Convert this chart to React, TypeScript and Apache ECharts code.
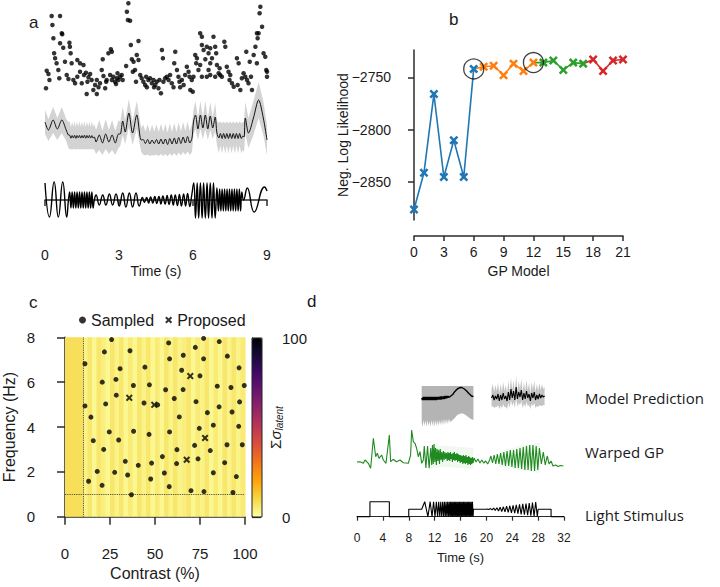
import React, { useEffect, useRef } from 'react';
import * as echarts from 'echarts';

// ---------- Panel a ----------
const spikeRates: number[][] = [
  [0.27,84],[0.61,84],[0.30,75],[0.34,61.7],[0.68,66.7],[0.70,65.7],[0.61,56.7],[0.74,52.3],[0.99,57.3],[1.01,53.3],
  [0.37,46.7],[0.41,41.7],[0.47,36.7],[0.81,38.3],[1.04,46.7],[1.08,36.7],[1.31,40],[1.42,36.7],[1.56,35],[0.07,29.3],
  [0.14,26],[0.18,20],[0.04,11.7],[0.54,30],[0.58,21.7],[0.88,25],[0.95,21],[1.15,20],[1.22,16.7],[1.31,23.3],
  [1.42,28.3],[1.49,16.7],[1.58,25],[1.66,27.3],[1.72,18.3],[1.76,22.7],[1.83,26],[1.89,20],[1.69,6],[1.96,10],
  [2.03,15],[2.10,20],[2.10,6],[2.17,12.7],[2.23,16.7],[2.30,30],[2.37,24],[2.44,11.7],[2.48,18.3],[2.50,20],
  [2.34,40.7],[2.57,46.7],[2.67,50.7],[2.71,48.3],[2.64,25],[2.71,20],[2.77,23.3],[2.84,18.3],[2.91,21.7],[2.98,20],
  [3.04,23.3],[3.11,25],[3.15,20],[2.88,16],[2.94,26.7],
  [3.38,96.7],[3.32,88.3],[3.36,80],[3.45,79.3],[3.48,55],[3.79,59],[3.29,34],[3.52,40.7],[3.59,38.3],[3.65,30],
  [3.56,28.3],[3.72,45],[3.79,40],[3.69,18.3],[3.86,25],[3.92,21.7],[3.99,18.3],[4.06,15],[4.13,12.7],[4.10,23.3],
  [4.19,20],[4.26,21.7],[4.33,16.7],[4.40,20],[4.42,12.7],[4.47,15],[4.53,18.3],[4.60,11.7],[4.64,20],[4.70,6.7],
  [4.74,50],[4.78,41.7],[4.80,18.3],[4.87,21.7],[4.94,23.3],[5.01,20],[5.07,25],[5.14,16.7],[5.21,12.7],[5.28,48.3],
  [5.24,36.7],[5.35,30],[5.41,23.3],[5.45,18.3],[5.48,12.7],[5.55,20],[5.62,15],[5.68,25],[5.75,33.3],[5.82,28.3],
  [5.86,23.3],[5.89,10],[5.95,20],[5.99,8.3],[6.02,23.3],
  [6.09,45],[6.16,41.7],[6.13,36.7],[6.22,30],[6.29,66.7],[6.36,63.3],[6.36,55],[6.43,50],[6.29,35],[6.50,40.7],
  [6.56,53.3],[6.63,46.7],[6.63,30],[6.70,51.7],[6.70,36.7],[6.77,41.7],[6.83,63.3],[6.90,53.3],[6.94,46.7],[6.97,35],
  [7.04,26.7],[7.10,25],[7.17,23.3],[7.08,31.7],[6.90,23.3],[6.70,25],[7.27,58.3],[7.31,53.3],[7.37,33.3],[7.44,28.3],
  [7.48,20],[7.51,25],[7.58,16.7],[7.65,13.3],[7.78,41.7],[7.85,36.7],[7.81,15],[7.92,10],[7.98,21.7],[8.05,26.7],
  [8.12,23.3],[8.16,48.3],[8.19,20],[8.25,16.7],[8.30,38.3],[8.35,23.3],[8.39,10],[8.46,45],[8.53,53.3],[8.59,66.7],
  [8.66,66.7],[8.62,61.7],[8.70,86.7],[8.73,93.3],[8.80,73.3],[8.86,46.7],[8.93,43.3],[8.97,30],[9.0,28.3],[9.0,23.3],
  [8.59,36.7],[6.36,23.3],[6.56,23.3]
];

// [time, mean, sd]
const gpMean: number[][] = [
  [0,18,12],[0.14,10,11],[0.33,20,13],[0.5,11,11],[0.68,20,13],[0.86,10,11],[0.95,5,13],
  [1.0,4.8,14],[1.05,1.8,11],[1.1,4.4,14],[1.15,2.1,11],[1.2,4.7,14],[1.25,1.7,11],[1.3,4.5,14],[1.35,2.2,11],[1.4,4.6,14],[1.45,1.9,11],
  [1.5,4.4,14],[1.55,2,11],[1.6,4.8,14],[1.65,1.8,11],[1.7,4.5,14],[1.75,2.1,11],[1.8,4.6,14],[1.85,1.9,11],[1.9,4.4,14],[1.95,2,11],[2.0,3,13],
  [2.07,-2,12],[2.2,5,15],[2.33,-3,12],[2.46,6,15],[2.59,-2,12],[2.72,5,15],[2.85,-3,12],[2.98,6,14],
  [3.05,6,12],[3.15,19,14],[3.25,8,12],[3.4,27,14],[3.55,7,12],[3.72,25,14],[3.9,0,12],
  [3.98,0.5,15],[4.07,-3.5,12],[4.16,0.5,15],[4.25,-4,12],[4.34,0,15],[4.43,-3.5,12],[4.52,0.5,15],[4.61,-4,12],[4.7,1,15],[4.79,-4,12],
  [4.88,1,15],[4.97,-4.5,12],[5.06,1.5,15],[5.15,-4,12],[5.24,2,15],[5.33,-4,12],[5.42,2.5,15],[5.51,-3.5,12],[5.6,3,15],[5.69,-3,12],
  [5.78,3.5,15],[5.87,-3,12],[5.96,2,14],
  [6.02,18,12],[6.1,25,14],[6.2,11,11],[6.3,25,14],[6.4,12,11],[6.5,25,14],[6.6,11,11],[6.7,24,14],[6.8,12,11],[6.9,23,14],[6.97,7,12],
  [7.05,2,15],[7.11,6.5,12],[7.18,1.5,15],[7.24,6.5,12],[7.31,1.5,15],[7.37,6.5,12],[7.44,1.5,15],[7.5,6.5,12],[7.57,1.5,15],[7.63,6.5,12],
  [7.7,1.5,15],[7.76,6.5,12],[7.83,1.5,15],[7.89,6.5,12],[7.96,1.5,15],[8.02,4,14],
  [8.07,3,15],[8.12,22,16],[8.25,7,15],[8.45,22,17],[8.66,40,18],[8.85,22,17],[9.0,0,15]
];

const latentTrace: number[][] = [
  [0,17],[0.18,-17],[0.37,18],[0.54,-17],[0.72,18],[0.88,-17],[0.95,0],
  [1.0,8],[1.05,-8],[1.1,8],[1.15,-8],[1.2,8],[1.25,-8],[1.3,8],[1.35,-8],[1.4,8],[1.45,-8],[1.5,8],[1.55,-8],[1.6,8],[1.65,-8],
  [1.7,8],[1.75,-8],[1.8,8],[1.85,-8],[1.9,8],[1.95,-8],[2.0,0],
  [2.07,5],[2.2,-5],[2.34,5],[2.47,-5],[2.61,6],[2.74,-5],[2.88,6],[3.01,-6],[3.15,7],[3.28,-7],[3.42,7],[3.55,-7],[3.69,7],[3.82,-6],
  [3.95,2.5],[4.03,-2.5],[4.12,2.5],[4.2,-3],[4.28,3],[4.37,-3],[4.45,3.5],[4.53,-3.5],[4.62,3.5],[4.7,-4],[4.78,4],[4.87,-4],[4.95,4.5],
  [5.03,-4.5],[5.12,5],[5.2,-5],[5.28,5],[5.37,-5.5],[5.45,5.5],[5.53,-6],[5.62,6],[5.7,-6],[5.78,6.5],[5.87,-6.5],[5.95,5],
  [6.03,17],[6.1,-18],[6.17,17],[6.23,-18],[6.3,17],[6.37,-18],[6.43,17],[6.5,-18],[6.57,17],[6.63,-18],[6.7,17],[6.77,-18],[6.83,17],[6.9,-18],[6.97,12],
  [7.03,-11],[7.08,11],[7.13,-11],[7.18,11],[7.23,-11],[7.28,11],[7.33,-11],[7.38,11],[7.43,-11],[7.48,11],[7.53,-11],[7.58,11],[7.63,-11],
  [7.68,11],[7.73,-11],[7.78,11],[7.83,-11],[7.88,11],[7.93,-11],[7.98,8],
  [8.05,0],[8.2,12],[8.48,-12],[8.9,13],[9.0,9]
];
const timeTicksA = [0, 3, 6, 9];

// ---------- Panel b ----------
const gpModels = [0,1,2,3,4,5,6,7,8,9,10,11,12,13,14,15,16,17,18,19,20,21];
const negLogLik = [-2876,-2841,-2766,-2845,-2810,-2845,-2742,-2740,-2739,-2748,-2737,-2744,-2736,-2736,-2734,-2743,-2736,-2737,-2733,-2744,-2734,-2733];
const segmentBreaks = [0, 6, 12, 17, 21];
const segmentColors = ['#1f77b4', '#ff7f0e', '#2ca02c', '#d62728'];
const circledModels = [6, 12];
const nllTicks = [-2850, -2800, -2750];

// ---------- Panel c ----------
const sampled: number[][] = [
  [11.1,6.82],[25.9,7.9],[21.9,7.35],[36.1,7.4],[30.6,6.6],[28.3,6.12],[20.7,6.0],[38,5.85],[28.5,5.42],[22.6,5.03],
  [11.1,4.94],[14.4,4.44],[44.4,6.67],[46.9,5.88],[43.9,5.07],[57.6,7.75],[58.1,7.04],[55.9,5.66],[60.7,5.27],[65.7,7.2],
  [64.8,6.53],[65.6,5.67],[63.5,4.45],[72.4,7.55],[77,7.95],[77,7.04],[75,6.28],[72.8,5.13],[79.1,4.64],[85.7,7.81],
  [90.2,7.16],[84.6,5.82],[92.2,5.76],[96.7,6.64],[99.6,5.85],[97,5.12],[85.6,4.9],[92.8,4.67],[74.6,3.94],[82.4,4.08],
  [96.5,4.03],[51.5,4.99],
  [13.1,1.58],[15.7,3.39],[17.9,2.02],[20.6,1.4],[21.5,3.0],[24.6,3.78],[27.6,1.98],[29.8,3.42],[33.5,2.47],[34.8,1.86],
  [36.9,0.98],[38.1,3.81],[40.7,2.29],[46.7,3.67],[47.6,1.68],[48.1,2.39],[54.1,2.68],[55.2,1.95],[58.1,3.78],[57.9,1.34],
  [62.2,2.99],[62.0,2.37],[70,1.16],[72,3.18],[73.9,2.58],[77.2,1.12],[80.7,2.95],[82.4,1.96],[88.7,2.41],[90,3.21],
  [93.3,1.08],[95.2,1.79],[98.5,3.21]
];
const proposed: number[][] = [[35.7,5.3],[49.6,4.99],[69.6,6.27],[67.6,2.54],[77.8,3.51]];
const contrastEdges = [0,2.5,5,7.5,10,12.5,15,17.5,20,22.5,25,27.5,30,32.5,35,37.5,40,42.5,45,47.5,50,52.5,55,57.5,60,62.5,65,67.5,70,72.5,75,77.5,80,82.5,85,87.5,90,92.5,95,97.5,100];
const sigmaColumns = [8,8,8,8,3,6,2,6,4,2,6,3,6,2,5,2,6,3,6,2,5,2,6,3,6,3,4,6,2,5,3,6,2,5,2,6,3,6,3,5];
const sigmaRange = [0, 100];
const contrastThreshold = 10;
const freqThreshold = 1;

// ---------- Panel d ----------
const modelMean1: number[][] = [
  [10.0,22],[10.12,20],[10.24,23],[10.36,20],[10.48,23],[10.6,20],[10.72,23],[10.84,20],[10.96,23],[11.08,20],[11.2,23],[11.32,20],
  [11.44,23],[11.56,20],[11.68,23],[11.8,20],[11.92,23],[12.04,20],[12.16,23],[12.28,20],[12.4,23],[12.52,20.5],[12.64,23],[12.76,20.5],
  [12.88,23.5],[13.0,20.5],[13.12,23.5],[13.24,21],[13.36,23.5],[13.48,21],[13.6,24],[13.72,21.5],[13.84,24],[13.96,22],[14.08,24],[14.2,22.5],
  [14.4,23.5],[14.8,25.5],[15.1,28.3],[15.5,31],[15.9,32.3],[16.2,32.5],[16.6,31],[16.95,29],[17.3,26.5],[17.7,24],[18.0,23.3]
];
const modelBand1: number[][] = [
  [10.0,-2,34],[10.15,-7,34],[10.3,0,34],[10.45,-6,34],[10.6,0,34],[10.75,-7,34],[10.9,0,34],[11.05,-6,34],[11.2,-1,34],[11.35,-7,34],
  [11.5,0,34],[11.65,-6,34],[11.8,0,34],[11.95,-7,34],[12.1,0,34],[12.25,-6,34],[12.4,0,34],[12.55,-6,34],[12.7,0,34],[12.85,-5,34],
  [13.0,0,34],[13.15,-5,34],[13.3,1,34],[13.45,-5,34],[13.6,1,34],[13.75,-4,34],[13.9,1,34],[14.05,-4,34],[14.2,1,34],[14.4,-2,34],
  [14.8,0,34],[15.1,2,34],[15.5,5,34],[16.0,6.5,34],[16.4,6.5,34],[16.8,5,34],[17.2,3,34],[17.6,1,34],[18.0,0,34]
];
// [time, mean, sd]
const model2: number[][] = [
  [20.8,22,9],[21.0,25,11],[21.2,20,8],[21.4,24,11],[21.6,21,8],[21.8,26,11],[22.0,19,8],[22.2,25,11],[22.4,20,8],[22.6,27,11],
  [22.8,21,8],[23.0,24,11],[23.2,19,8],[23.4,28,11],[23.6,20,8],[23.8,31,11],[24.0,22,8],[24.2,29,11],[24.4,20,8],[24.6,33,11],
  [24.8,21,8],[25.0,28,11],[25.2,23,8],[25.4,30,11],[25.6,20,8],[25.8,27,11],[26.0,21,8],[26.2,29,11],[26.4,22,8],[26.6,26,11],
  [26.8,19,8],[27.0,27,11],[27.2,22,8],[27.4,28,11],[27.6,20,8],[27.8,25,11],[28.0,21,8],[28.2,26,11],[28.4,22,8],[28.6,25,11],
  [28.8,23,8],[29.0,24,9]
];
const warpedGP: number[][] = [
  [0,8],[0.46,8.3],[0.98,6.7],[1.24,10],[1.75,6.7],[2.11,1.7],[2.53,31.7],[2.89,13.3],[3.14,16.7],[3.4,11.7],[3.81,15],[4.07,10],
  [4.48,6.7],[5.0,35],[5.2,8.3],[5.6,10.7],[6.1,8.3],[6.65,10],[7.16,7.3],[7.93,6.7],[8.29,15],[8.45,40],[8.71,28.3],[8.96,26.7],
  [9.22,21.7],[9.48,13.3],[9.74,18.3],[10.0,6.7],[10.25,10],
  [10.4,24],[10.65,2],[10.9,24],[11.15,1.7],[11.4,22],
  [11.55,5],[11.67,25],[11.79,6],[11.91,26],[12.03,8],[12.15,22],[12.27,5],[12.39,21],[12.51,9],[12.63,20],[12.75,6],[12.87,21],
  [12.99,10],[13.11,18],[13.23,8],[13.35,19],[13.47,10],[13.59,18],[13.71,11],[13.83,17],[13.95,9],
  [14.05,18],[14.15,10],[14.25,17],[14.35,9],[14.45,18],[14.55,11],[14.65,16],[14.75,8],[14.85,17],[14.95,10],[15.05,18],[15.15,9],
  [15.25,16],[15.35,10],[15.45,17],[15.55,8],[15.65,16],[15.75,9],[15.85,15],[15.95,7],[16.05,15],[16.15,8],[16.25,14],[16.35,6],
  [16.45,15],[16.55,7],[16.65,14],[16.75,6],[16.85,15],[16.95,7],[17.05,13],[17.15,5],[17.25,14],[17.35,6],[17.45,13],[17.55,5],
  [17.65,12],[17.75,6],[17.85,13],[17.95,7],
  [18.1,12],[18.4,8],[18.7,11],[19.0,7],[19.3,10],[19.6,7],[19.9,9],[20.2,6],[20.5,10],
  [20.7,14],[20.95,7],[21.2,15],[21.45,6],[21.7,16],[21.95,6],[22.2,17],[22.45,5],[22.7,18],[22.95,4],[23.2,19],[23.45,4],[23.7,20],
  [23.95,3],[24.2,20],[24.45,2],[24.7,21],[24.95,2],[25.2,22],[25.45,1],[25.7,23],[25.95,0],[26.2,24],[26.45,0],[26.7,25],[26.95,-1],
  [27.2,25],[27.45,-1],[27.7,24],[27.95,0],[28.2,22],
  [28.5,6],[28.8,18],[29.1,5],[29.4,14],[29.7,6],[30.0,9],[30.3,4],[30.7,5],[31.1,3.5],[31.5,4.5],[31.9,4]
];
const warpedBand1: number[][] = [[11.5,2,25],[14,3,24],[18,1,22]];
const warpedBand2: number[][] = [[22,3,18],[25,0,24],[28.3,-3,27]];
const stimulus: number[][] = [
  [0,0],[2,0],[2,1],[5,1],[5,0],[8,0],[8,0.5],[10,0.5],
  [10.47,1],[10.96,0],[11.31,1],[11.6,0],[11.84,1],[12.06,0],[12.27,1],[12.46,0],[12.63,1],[12.8,0],[12.95,1],[13.1,0],[13.25,1],
  [13.39,0],[13.52,1],[13.65,0],[13.77,1],[13.89,0],[14.01,1],[14.13,0],[14.24,1],[14.35,0],
  [14.45,1],[14.55,0],[14.65,1],[14.75,0],[14.85,1],[14.95,0],[15.05,1],[15.15,0],[15.25,1],[15.35,0],[15.45,1],[15.55,0],
  [15.65,1],[15.75,0],[15.85,1],[15.95,0],[16.05,1],[16.15,0],[16.25,1],[16.35,0],[16.45,1],[16.55,0],[16.65,1],[16.75,0],
  [16.85,1],[16.95,0],[17.05,1],[17.15,0],[17.25,1],[17.35,0],[17.45,1],[17.55,0],[17.65,1],[17.75,0],[17.85,1],[17.95,0],
  [18,0.5],[20,0.5],
  [20.125,0.51],[20.375,0.48],[20.625,0.54],[20.875,0.45],[21.125,0.57],[21.375,0.41],[21.625,0.6],[21.875,0.38],[22.125,0.63],
  [22.375,0.35],[22.625,0.66],[22.875,0.32],[23.125,0.7],[23.375,0.29],[23.625,0.73],[23.875,0.26],[24.125,0.76],[24.375,0.23],
  [24.625,0.79],[24.875,0.2],[25.125,0.82],[25.375,0.16],[25.625,0.85],[25.875,0.13],[26.125,0.88],[26.375,0.1],[26.625,0.91],
  [26.875,0.07],[27.125,0.95],[27.375,0.04],[27.625,0.98],[27.875,0.01],
  [28,0.5],[30,0.5],[30,0],[32,0]
];
const traceLabels = ['Model Prediction', 'Warped GP', 'Light Stimulus'];

// ---------- styling ----------
const FONT = '"Liberation Sans", Arial, sans-serif';
const AX = '#2b2b2b';
const TXT = '#1a1a1a';
const XSYM = 'path://M0,2 L2,0 L5,3 L8,0 L10,2 L7,5 L10,8 L8,10 L5,7 L2,10 L0,8 L3,5 Z';
const INFERNO_R = ['#fcffa4','#f6d746','#fca50a','#f37819','#dd513a','#bc3754','#932667','#6a176e','#420a68','#160b39','#000004'];

const hidden = (gi: number, min: number, max: number) => ({ gridIndex: gi, type: 'value', min, max, show: false, splitLine: { show: false } });

function visAxis(gi: number, extra: any, fs: number) {
  return {
    gridIndex: gi, type: 'value', splitLine: { show: false }, nameMoveOverlap: false,
    axisLine: { show: true, lineStyle: { color: AX, width: 1.5 } },
    axisTick: { show: true, lineStyle: { color: AX, width: 1.5 }, length: 6 },
    axisLabel: { color: TXT, fontSize: fs, fontFamily: FONT },
    nameTextStyle: { color: TXT, fontSize: fs, fontFamily: FONT },
    nameLocation: 'middle',
    ...extra,
  };
}

function band(gi: number, pts: number[][], color: string, z = 1) {
  return {
    type: 'custom', xAxisIndex: gi, yAxisIndex: gi, silent: true, z, clip: false,
    data: [[pts[0][0], pts[0][1]]],
    renderItem: (_p: any, api: any) => {
      const top = pts.map((p) => api.coord([p[0], p[2]]));
      const bot = pts.slice().reverse().map((p) => api.coord([p[0], p[1]]));
      return { type: 'polygon', shape: { points: top.concat(bot) }, style: { fill: color } };
    },
  };
}

function line(gi: number, data: number[][], color: string, width: number, smooth: any = false, z = 3) {
  return { type: 'line', xAxisIndex: gi, yAxisIndex: gi, data, showSymbol: false, smooth, z, silent: true,
    lineStyle: { color, width }, itemStyle: { color } };
}

function buildOption() {
  const grids = [
    { left: 45, width: 222, top: 0, height: 100 },       // 0 a spikes
    { left: 45, width: 222, top: 95, height: 65 },       // 1 a GP band
    { left: 45, width: 222, top: 175, height: 57.5 },    // 2 a latent
    { left: 414, width: 209, top: 50, height: 170 },     // 3 b
    { left: 65, width: 180, top: 337.3, height: 179.4 },// 4 c
    { left: 252, width: 10, top: 338, height: 179, show: true, borderColor: '#222', borderWidth: 1, z: 10 }, // 5 colorbar
    { left: 357, width: 207, top: 380, height: 55 },     // 6 d model
    { left: 357, width: 207, top: 425, height: 50 },     // 7 d warped
    { left: 357, width: 207, top: 498.7, height: 25.5 }, // 8 d stimulus
  ];

  const xAxis: any[] = [
    hidden(0, 0, 9), hidden(1, 0, 9),
    visAxis(2, { min: timeTicksA[0], max: timeTicksA[timeTicksA.length - 1], interval: 3, name: 'Time (s)', nameGap: 31,
      axisLabel: { color: TXT, fontSize: 14, fontFamily: FONT, margin: 15 } }, 14),
    visAxis(3, { min: 0, max: 21, interval: 3, offset: 16, name: 'GP Model', nameGap: 28,
      axisTick: { show: true, length: 5, lineStyle: { color: AX, width: 1.5 } },
      axisLabel: { color: TXT, fontSize: 14, fontFamily: FONT, margin: 9 } }, 14),
    visAxis(4, { min: 0, max: 100, interval: 25, offset: 12, name: 'Contrast (%)', nameGap: 37,
      axisTick: { show: true, length: 8, lineStyle: { color: AX, width: 1.5 } },
      nameTextStyle: { color: TXT, fontSize: 16, fontFamily: FONT },
      axisLabel: { color: TXT, fontSize: 15, fontFamily: FONT, margin: 17 } }, 15),
    hidden(5, 0, 1),
    hidden(6, 0, 32), hidden(7, 0, 32),
    visAxis(8, { min: 0, max: 32, interval: 4, name: 'Time (s)', nameGap: 27,
      axisTick: { show: true, length: 4, lineStyle: { color: AX, width: 1.2 } },
      axisLine: { show: true, lineStyle: { color: AX, width: 1.2 } },
      nameTextStyle: { color: TXT, fontSize: 13, fontFamily: FONT },
      axisLabel: { color: TXT, fontSize: 12, fontFamily: FONT, margin: 8 } }, 12),
  ];

  const yAxis: any[] = [
    hidden(0, 0, 100), hidden(1, -20, 45), hidden(2, -32.5, 25),
    visAxis(3, { min: -2886, max: -2724, offset: 15, name: 'Neg. Log Likelihood', nameGap: 49,
      axisTick: { show: true, length: 6, lineStyle: { color: AX, width: 1.5 }, customValues: nllTicks },
      axisLabel: { color: TXT, fontSize: 14, fontFamily: FONT, margin: 8, customValues: nllTicks,
        formatter: (v: number) => (v < 0 ? '\u2212' + Math.abs(v) : String(v)) } }, 14),
    visAxis(4, { min: 0, max: 8, interval: 2, offset: 12, name: 'Frequency (Hz)', nameGap: 36,
      axisTick: { show: true, length: 8, lineStyle: { color: AX, width: 1.5 } },
      nameTextStyle: { color: TXT, fontSize: 16, fontFamily: FONT },
      axisLabel: { color: TXT, fontSize: 15, fontFamily: FONT, margin: 18 } }, 15),
    visAxis(5, { min: sigmaRange[0], max: sigmaRange[1], interval: 100, position: 'right',
      axisLine: { show: true, lineStyle: { color: '#222', width: 1 } },
      axisTick: { show: true, length: 9, lineStyle: { color: '#222', width: 1.2 } },
      axisLabel: { color: TXT, fontSize: 15, fontFamily: FONT, margin: 20 },
      name: '{s|\u03a3}{g|\u03c3}{b|latent}', nameRotate: 90, nameGap: 5,
      nameTextStyle: { color: TXT, fontFamily: FONT, rich: {
        s: { fontSize: 15, fontFamily: FONT, color: TXT },
        g: { fontSize: 15, fontFamily: FONT, fontStyle: 'italic', color: TXT },
        b: { fontSize: 10, fontFamily: FONT, fontStyle: 'italic', color: TXT, verticalAlign: 'bottom', padding: [7, 0, 0, 0] },
      } } }, 15),
    hidden(6, -15, 40), hidden(7, -5, 45), hidden(8, -0.5, 1.2),
  ];

  const series: any[] = [];
  // panel a
  series.push({ type: 'scatter', xAxisIndex: 0, yAxisIndex: 0, data: spikeRates, symbolSize: 4.5, clip: false, silent: true,
    itemStyle: { color: '#000' } });
  series.push(band(1, gpMean.map((p) => [p[0], p[1] - p[2], p[1] + p[2]]), '#d3d3d3'));
  series.push(line(1, gpMean.map((p) => [p[0], p[1]]), '#111', 1, 0.3));
  series.push(line(2, latentTrace, '#000', 1.4, 0.5));

  // panel b
  for (let s = 0; s < segmentColors.length; s++) {
    const from = segmentBreaks[s];
    const to = segmentBreaks[s + 1];
    const data: any[] = [];
    for (let i = from; i <= to; i++) {
      const item: any = { value: [gpModels[i], negLogLik[i]] };
      if (s > 0 && i === from) item.symbol = 'none';
      data.push(item);
    }
    series.push({ type: 'line', xAxisIndex: 3, yAxisIndex: 3, data, symbol: XSYM, symbolSize: 9, showSymbol: true,
      lineStyle: { color: segmentColors[s], width: 1.6 }, itemStyle: { color: segmentColors[s] }, z: 4 + (segmentColors.length - s), silent: true });
  }
  series.push({ type: 'scatter', xAxisIndex: 3, yAxisIndex: 3, silent: true, z: 10,
    data: circledModels.map((m) => [m, negLogLik[m]]), symbol: 'circle', symbolSize: 20,
    itemStyle: { color: 'rgba(0,0,0,0)', borderColor: '#111', borderWidth: 1.3 } });

  // panel c heat cells
  const cells = sigmaColumns.map((v, i) => [contrastEdges[i], contrastEdges[i + 1], 0, 8, v]);
  const heatIndex = series.length;
  series.push({
    type: 'custom', xAxisIndex: 4, yAxisIndex: 4, data: cells, silent: true, z: 1,
    encode: { x: [0, 1], y: [2, 3] },
    renderItem: (_p: any, api: any) => {
      const a = api.coord([api.value(0), api.value(3)]);
      const b = api.coord([api.value(1), api.value(2)]);
      return { type: 'rect', shape: { x: a[0], y: a[1], width: b[0] - a[0] + 0.6, height: b[1] - a[1] },
        style: { fill: api.visual('color') } };
    },
  });
  series.push({ name: 'Sampled', type: 'scatter', xAxisIndex: 4, yAxisIndex: 4, data: sampled, symbol: 'circle', symbolSize: 5,
    itemStyle: { color: '#000' }, clip: false, silent: true, z: 5,
    markLine: { silent: true, symbol: 'none', animation: false, label: { show: false },
      lineStyle: { type: 'dotted', color: '#333', width: 0.9 },
      data: [{ xAxis: contrastThreshold }, { yAxis: freqThreshold }] } });
  series.push({ name: 'Proposed', type: 'scatter', xAxisIndex: 4, yAxisIndex: 4, data: proposed, symbol: XSYM, symbolSize: 7,
    itemStyle: { color: '#000' }, clip: false, silent: true, z: 5 });
  series.push({ type: 'scatter', xAxisIndex: 5, yAxisIndex: 5, data: [], silent: true });

  // panel d
  series.push(band(6, modelBand1, '#b4b4b4'));
  series.push(band(6, model2.map((p) => [p[0], p[1] - p[2], p[1] + p[2]]), '#c4c4c4'));
  series.push(line(6, modelMean1, '#000', 1.4, false));
  series.push(line(6, model2.map((p) => [p[0], p[1]]), '#000', 1.1, false));
  series.push(band(7, warpedBand1, 'rgba(40,150,40,0.07)'));
  series.push(band(7, warpedBand2, 'rgba(40,150,40,0.07)'));
  series.push(line(7, warpedGP, '#1f8a1f', 1.1, false));
  series.push(line(8, stimulus, '#000', 1.1, false));

  const labelY = [398, 452, 515];
  const graphic: any[] = [
    { type: 'text', x: 29, y: 14, style: { text: 'a', font: '17px ' + FONT, fill: TXT } },
    { type: 'text', x: 449, y: 11, style: { text: 'b', font: '17px ' + FONT, fill: TXT } },
    { type: 'text', x: 29, y: 294, style: { text: 'c', font: '17px ' + FONT, fill: TXT } },
    { type: 'text', x: 307, y: 293, style: { text: 'd', font: '17px ' + FONT, fill: TXT } },
    ...traceLabels.map((t, i) => ({ type: 'text', x: 585, y: labelY[i],
      style: { text: t, font: '15px "Open Sans", sans-serif', fill: TXT, verticalAlign: 'middle' } })),
  ];

  return {
    animation: false,
    backgroundColor: '#fff',
    grid: grids,
    xAxis, yAxis, series, graphic,
    legend: {
      data: [{ name: 'Sampled', icon: 'circle' }, { name: 'Proposed', icon: XSYM }],
      left: 74, top: 307, itemWidth: 7, itemHeight: 7, itemGap: 11, selectedMode: false,
      textStyle: { fontSize: 16, fontFamily: FONT, color: TXT },
    },
    visualMap: [{
      type: 'continuous', min: sigmaRange[0], max: sigmaRange[1], dimension: 4, seriesIndex: [heatIndex],
      inRange: { color: INFERNO_R }, orient: 'vertical', left: 252, top: 338, itemWidth: 10, itemHeight: 179,
      padding: 0, calculable: false, hoverLink: false, showLabel: false, text: undefined,
    }],
  };
}

export default function App() {
  const ref = useRef<HTMLDivElement | null>(null);
  useEffect(() => {
    if (!ref.current) return;
    const chart = echarts.init(ref.current, null, { renderer: 'svg' });
    chart.setOption(buildOption() as any);
    return () => chart.dispose();
  }, []);
  return <div ref={ref} style={{ position: 'fixed', left: 0, top: 0, width: 720, height: 587, background: '#fff' }} />;
}
